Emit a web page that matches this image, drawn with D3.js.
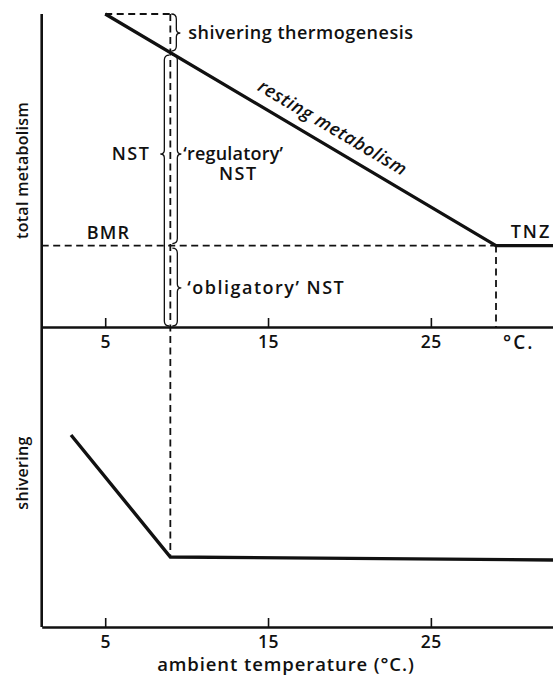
<!DOCTYPE html>
<html>
<head>
<meta charset="utf-8">
<script src="https://cdn.jsdelivr.net/npm/d3@7"></script>
<style>
  html, body { margin: 0; padding: 0; background: #fff; }
  svg text { font-family: "Open Sans", "DejaVu Sans", sans-serif; fill: #111; }
</style>
</head>
<body>
<svg id="chart" width="553" height="679"></svg>
<script>
// Ambient temperature axis (°C)
const tempTicks = [5, 15, 25];
const tempUnitLabel = "°C.";
const tempDomain = [1.1, 32.5];

// Resting metabolism against ambient temperature (relative units)
const restingTemps = [5, 29, 33];
const restingValues = [10, 2.6, 2.6];
const bmrValue = 2.6;          // basal metabolic rate
const tnzLowerLimit = 29;      // lower limit of the thermoneutral zone
const shiverOnset = 9;         // below this temperature shivering begins

// Shivering activity against ambient temperature (relative units)
const shiverTemps = [2.9, 9, 33];
const shiverValues = [9.6, 3.5, 3.35];

const svg = d3.select("#chart");
const ink = "#111";

const plotLeft = 41.7, plotRight = 553;
const x = d3.scaleLinear().domain(tempDomain).range([plotLeft, plotRight]);
const yTop = d3.scaleLinear().domain([0, 10]).range([327, 14]);
const yBot = d3.scaleLinear().domain([0, 10]).range([627, 427]);

const line = (xs, ys, ysc) => d3.line()(xs.map((t, i) => [x(t), ysc(ys[i])]));
const restingAt = t => {
  const i = d3.bisectRight(restingTemps, t) - 1;
  const k = Math.max(0, Math.min(i, restingTemps.length - 2));
  const f = (t - restingTemps[k]) / (restingTemps[k + 1] - restingTemps[k]);
  return restingValues[k] + f * (restingValues[k + 1] - restingValues[k]);
};

// ---- axes ----
svg.append("line")
  .attr("x1", plotLeft).attr("x2", plotLeft)
  .attr("y1", yTop(10)).attr("y2", yBot(0))
  .attr("stroke", ink).attr("stroke-width", 2.6);

function tempAxis(yPos, withUnit) {
  const g = svg.append("g").attr("transform", `translate(0,${yPos})`)
    .call(d3.axisBottom(x).tickValues(tempTicks).tickFormat(d3.format("d"))
      .tickSizeInner(-9).tickSizeOuter(0).tickPadding(9));
  g.select(".domain").attr("stroke", ink).attr("stroke-width", 2.4);
  g.selectAll(".tick line").attr("stroke", ink).attr("stroke-width", 1.6);
  g.selectAll(".tick text").attr("fill", ink)
    .style("font-size", "17.5px").style("font-weight", 600).style("letter-spacing", "0.6px")
    .style("font-family", '"Open Sans", sans-serif');
  if (withUnit) {
    g.append("text").attr("x", x(30.4)).attr("y", 9).attr("dy", "0.71em")
      .attr("text-anchor", "middle").attr("fill", ink)
      .style("font-size", "19px").style("font-weight", 600).style("letter-spacing", "2px")
      .text(tempUnitLabel);
  }
  return g;
}
tempAxis(yTop(0), true);
tempAxis(yBot(0), false);

// ---- reference (dashed) lines ----
const dash = "7,4.5";
const dashed = (x1, y1, x2, y2) => svg.append("line")
  .attr("x1", x1).attr("y1", y1).attr("x2", x2).attr("y2", y2)
  .attr("stroke", ink).attr("stroke-width", 1.8).attr("stroke-dasharray", dash);

dashed(plotLeft, yTop(bmrValue), x(tnzLowerLimit), yTop(bmrValue));        // BMR level
dashed(x(tnzLowerLimit), yTop(bmrValue), x(tnzLowerLimit), yTop(0));       // TNZ limit
dashed(x(restingTemps[0]), yTop(restingValues[0]), x(shiverOnset), yTop(restingValues[0])); // max metabolism
dashed(x(shiverOnset), yTop(restingValues[0]), x(shiverOnset), yBot(shiverValues[1]));    // shivering onset

// ---- data lines ----
svg.append("path").attr("d", line(restingTemps, restingValues, yTop))
  .attr("fill", "none").attr("stroke", ink).attr("stroke-width", 3.2)
  .attr("stroke-linejoin", "miter");
svg.append("path").attr("d", line(shiverTemps, shiverValues, yBot))
  .attr("fill", "none").attr("stroke", ink).attr("stroke-width", 3.4)
  .attr("stroke-linejoin", "miter");

// ---- curly braces around the shivering-onset line ----
function brace(bx, y0, y1, ym, dir) {
  const p = d3.path();
  const r = 5, tip = 4;
  p.moveTo(bx - dir * r, y0);
  p.quadraticCurveTo(bx, y0, bx, y0 + r);
  p.lineTo(bx, ym - 4);
  p.quadraticCurveTo(bx, ym, bx + dir * tip, ym);
  p.quadraticCurveTo(bx, ym, bx, ym + 4);
  p.lineTo(bx, y1 - r);
  p.quadraticCurveTo(bx, y1, bx - dir * r, y1);
  svg.append("path").attr("d", p.toString())
    .attr("fill", "none").attr("stroke", ink).attr("stroke-width", 1.3);
}
const xs = x(shiverOnset);
const yOnset = yTop(restingAt(shiverOnset));
brace(xs + 6, yTop(10), yOnset - 1.5, yTop(10) + 19, 1);        // shivering thermogenesis
brace(xs - 6, yOnset + 2.5, yTop(0) - 1, yTop(10) + 140, -1);   // total NST
brace(xs + 7, yOnset + 2.5, yTop(bmrValue) - 2, yTop(10) + 140, 1); // regulatory NST
brace(xs + 7, yTop(bmrValue) + 2.5, yTop(0) - 1, yTop(1.25), 1);    // obligatory NST

// ---- annotations ----
const label = (tx, ty, txt, anchor = "start", spacing = 0.5) => svg.append("text")
  .attr("x", tx).attr("y", ty).attr("dy", "0.35em")
  .attr("text-anchor", anchor)
  .style("font-size", "18px").style("font-weight", 600)
  .style("letter-spacing", spacing + "px")
  .text(txt);

label(xs + 18, yTop(10) + 19, "shivering thermogenesis");
label(xs - 20, yTop(10) + 140, "NST", "end", 1.5);
label(xs + 13, yTop(10) + 140, "‘regulatory’", "start", 0.2);
label(xs + 68, yTop(10) + 160, "NST", "middle", 1.5);
label(x(5.2), yTop(bmrValue) - 13, "BMR", "middle", 1.2);
label(x(29.9), yTop(bmrValue) - 14, "TNZ", "start", 2);
label(xs + 17, yTop(1.25), "‘obligatory’ NST", "start", 1.5);

// resting metabolism, set along its line
{
  const t0 = restingTemps[0], t1 = restingTemps[1];
  const ang = Math.atan2(yTop(restingValues[1]) - yTop(restingValues[0]), x(t1) - x(t0)) * 180 / Math.PI;
  const tm = 18.4;
  svg.append("text")
    .attr("transform", `translate(${x(tm)},${yTop(restingAt(tm))}) rotate(${ang})`)
    .attr("y", -12).attr("text-anchor", "middle")
    .style("font-size", "18px").style("font-style", "italic").style("font-weight", 600)
    .style("letter-spacing", "0.6px")
    .text("resting metabolism");
}

// axis titles
svg.append("text")
  .attr("transform", `translate(22,${(yTop(10) + yTop(0)) / 2})rotate(-90)`)
  .attr("dy", "0.35em").attr("text-anchor", "middle")
  .style("font-size", "16px").style("font-weight", 600).style("letter-spacing", "0.3px")
  .text("total metabolism");
svg.append("text")
  .attr("transform", `translate(22,${yBot(7.7)})rotate(-90)`)
  .attr("dy", "0.35em").attr("text-anchor", "middle")
  .style("font-size", "16px").style("font-weight", 600).style("letter-spacing", "0.3px")
  .text("shivering");
svg.append("text")
  .attr("x", x(16.1)).attr("y", 665).attr("dy", "0.35em")
  .attr("text-anchor", "middle")
  .style("font-size", "18.5px").style("font-weight", 600).style("letter-spacing", "0.9px")
  .text("ambient temperature (°C.)");
</script>
</body>
</html>
